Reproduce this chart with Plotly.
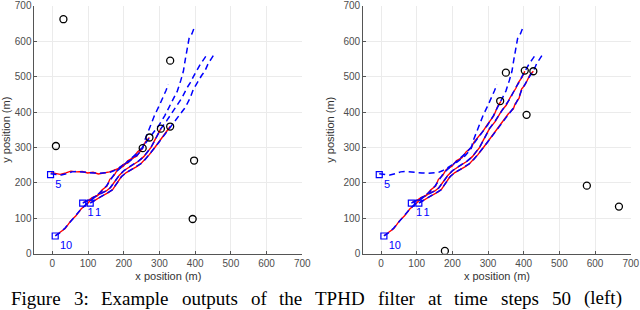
import plotly.graph_objects as go

# ---------------- data ----------------
# ground-truth tracks (blue dashed)
gt_q_x = [-5, 10, 25, 40, 55, 70, 85, 100, 115, 130, 145, 160, 172, 185, 198, 212, 225, 236, 245, 253,
          258, 266, 276, 286, 298, 310, 318, 325]
gt_q_y = [226, 225, 222, 226, 231, 232, 230, 229, 228, 227, 227, 229, 234, 243, 250, 258, 267, 277, 287, 298,
          318, 340, 365, 390, 415, 440, 460, 478]
gt_p_x = [8, 20, 35, 50, 65, 80, 95, 110, 125, 140, 152, 162, 172, 184, 198, 212, 226, 240, 252, 262, 272,
          285, 300, 315, 328, 338, 350, 360, 367, 373, 377, 383, 391, 400]
gt_p_y = [50, 58, 72, 90, 108, 125, 140, 153, 165, 178, 192, 208, 222, 236, 248, 260, 272, 286, 300, 314, 328,
          345, 365, 390, 415, 435, 459, 490, 515, 552, 571, 608, 621, 645]
gt_r_x = [85, 98, 112, 126, 140, 152, 162, 170, 178, 188, 200, 214, 228, 242, 255, 266, 276, 286, 295, 304,
          320, 339, 350, 363, 377, 386, 395, 403, 414, 425, 433]
gt_r_y = [143, 150, 158, 165, 172, 178, 186, 196, 208, 222, 234, 244, 253, 262, 273, 286, 300, 318, 336, 353,
          375, 403, 420, 440, 468, 482, 500, 515, 534, 550, 562]
gt_s_x = [106, 118, 130, 142, 152, 160, 168, 176, 184, 194, 206, 220, 234, 248, 260, 272, 284, 298, 314, 330,
          345, 358, 370, 377, 386, 395, 403, 409, 418, 427, 437, 445, 452]
gt_s_y = [143, 150, 157, 164, 170, 175, 180, 192, 205, 218, 228, 236, 244, 254, 266, 280, 296, 314, 335, 359,
          378, 394, 410, 422, 440, 464, 478, 487, 503, 515, 538, 550, 561]

# estimated tracks, left panel (red)
l_q_x = [-3, 8, 22, 38, 52, 68, 84, 99, 114, 129, 146, 160, 173, 186, 199, 211, 224, 237, 246, 253]
l_q_y = [229, 227, 224, 228, 233, 231, 232, 228, 230, 225, 228, 231, 236, 241, 252, 256, 269, 276, 289, 298]
l_p_x = [10, 22, 36, 51, 66, 81, 96, 111, 126, 139, 153, 161, 173, 183, 199, 211, 227, 239, 253, 261, 272]
l_p_y = [52, 60, 71, 92, 107, 127, 139, 155, 164, 180, 191, 210, 221, 238, 247, 262, 271, 288, 299, 316, 328]
l_r_x = [87, 99, 113, 125, 141, 151, 163, 169, 179, 187, 201, 213, 229, 241, 256, 265, 277, 285, 296, 304]
l_r_y = [145, 149, 159, 164, 173, 177, 187, 195, 209, 221, 235, 243, 254, 261, 274, 285, 301, 317, 337, 353]
l_s_x = [108, 117, 131, 141, 153, 159, 169, 175, 185, 193, 207, 219, 235, 247, 261, 271, 285, 297, 315, 330]
l_s_y = [145, 149, 158, 163, 171, 174, 181, 191, 206, 217, 229, 235, 245, 253, 267, 279, 297, 313, 336, 359]

# estimated tracks, right panel (red)
r_p_x = l_p_x + [286, 299, 316, 327, 336]
r_p_y = l_p_y + [346, 366, 389, 416, 430]
r_r_x = l_r_x + [321, 338, 351, 362, 378, 385, 396, 403]
r_r_y = l_r_y + [374, 404, 419, 441, 467, 483, 499, 515]
r_s_x = l_s_x + [346, 357, 371, 376, 387, 394, 404, 410, 417, 427]
r_s_y = l_s_y + [377, 395, 409, 423, 439, 465, 477, 488, 504, 515]

# track starts and labels
start_x = [-5, 8, 85, 106]
start_y = [223, 50, 143, 143]
start_labels = ["5", "10", "1", "1"]

# measurements at the current time step
l_meas_x = [31, 330, 10, 272, 253, 304, 330, 397, 393]
l_meas_y = [662, 545, 304, 328, 298, 353, 359, 263, 98]
r_meas_x = [350, 403, 427, 334, 408, 577, 667, 179]
r_meas_y = [511, 517, 515, 431, 392, 192, 133, 8]

tick_vals = [0, 100, 200, 300, 400, 500, 600, 700]
caption_words = ["Figure", "3:", "Example", "outputs", "of", "the", "TPHD", "filter", "at", "time",
                 "steps", "50", "(left)"]
caption_word_px = [10, 72.5, 100.2, 180.6, 249.5, 278.2, 314.3, 376.8, 426.6, 453.2, 499.9, 550.8, 582.7]

# ---------------- figure ----------------
fig = go.Figure()
BLUE = "#0000ff"
RED = "#ff0000"


def add_panel(xa, ya, reds, meas_x, meas_y):
    for rx, ry in reds:
        fig.add_trace(go.Scatter(x=rx, y=ry, mode="lines", xaxis=xa, yaxis=ya,
                                 line=dict(color=RED, width=1.4), showlegend=False, hoverinfo="skip"))
    for gx, gy in [(gt_q_x, gt_q_y), (gt_p_x, gt_p_y), (gt_r_x, gt_r_y), (gt_s_x, gt_s_y)]:
        fig.add_trace(go.Scatter(x=gx, y=gy, mode="lines", xaxis=xa, yaxis=ya,
                                 line=dict(color=BLUE, width=1.5, dash="6px,4px"),
                                 showlegend=False, hoverinfo="skip"))
    fig.add_trace(go.Scatter(x=start_x, y=start_y, mode="markers+text", xaxis=xa, yaxis=ya,
                             text=start_labels, textposition="bottom right",
                             textfont=dict(color=BLUE, size=11, family="Liberation Sans"),
                             marker=dict(symbol="square-open", size=6, color=BLUE, line=dict(width=1.2)),
                             showlegend=False, hoverinfo="skip"))
    fig.add_trace(go.Scatter(x=meas_x, y=meas_y, mode="markers", xaxis=xa, yaxis=ya,
                             marker=dict(symbol="circle-open", size=7, color="black", line=dict(width=1.3)),
                             showlegend=False, hoverinfo="skip"))


add_panel("x", "y", [(l_q_x, l_q_y), (l_p_x, l_p_y), (l_r_x, l_r_y), (l_s_x, l_s_y)], l_meas_x, l_meas_y)
add_panel("x2", "y2", [(r_p_x, r_p_y), (r_r_x, r_r_y), (r_s_x, r_s_y)], r_meas_x, r_meas_y)

axis_common = dict(
    showgrid=True, gridcolor="#ebebeb", gridwidth=1,
    showline=True, linecolor="#555555", linewidth=1,
    ticks="inside", ticklen=3, tickcolor="#555555",
    tickfont=dict(family="Liberation Sans", size=10, color="#4d4d4d"),
    zeroline=False, tickvals=tick_vals, fixedrange=True, automargin=False,
    ticklabeloverflow="allow",
)
xt = dict(text="x position (m)", font=dict(family="Liberation Sans", size=11, color="#333333"), standoff=4)
yt = dict(text="y position (m)", font=dict(family="Liberation Sans", size=11, color="#333333"), standoff=6)

annotations = []
for w, px in zip(caption_words, caption_word_px):
    annotations.append(dict(text=w, xref="paper", yref="paper", x=px / 640, y=0,
                            xanchor="left", yanchor="bottom", showarrow=False, borderpad=0,
                            font=dict(family="Liberation Serif", size=19, color="black")))

fig.update_layout(
    width=640, height=310,
    margin=dict(l=0, r=0, t=0, b=0),
    paper_bgcolor="white", plot_bgcolor="white",
    xaxis=dict(domain=[0.0539, 0.4723], range=[-50, 700], anchor="y", title=xt, **axis_common),
    yaxis=dict(domain=[0.1816, 0.9815], range=[0, 700], anchor="x", title=yt, **axis_common),
    xaxis2=dict(domain=[0.5675, 0.9855], range=[-50, 700], anchor="y2", title=xt, **axis_common),
    yaxis2=dict(domain=[0.1816, 0.9815], range=[0, 700], anchor="x2", title=yt, **axis_common),
    annotations=annotations,
)

fig.write_html("out.html", config={"displayModeBar": False},
               post_script="document.body.style.margin='0px';")
